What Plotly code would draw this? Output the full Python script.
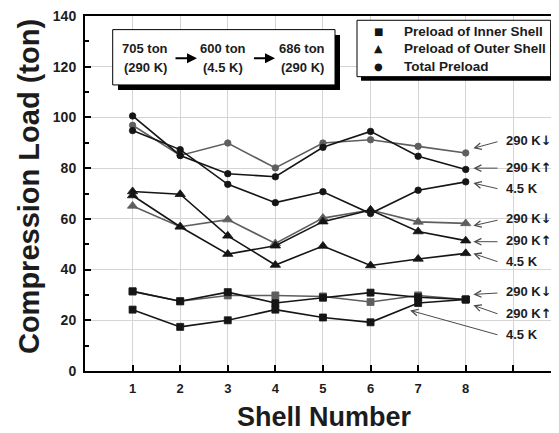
import plotly.graph_objects as go

# ---------------- data ----------------
shells = [1, 2, 3, 4, 5, 6, 7, 8]
x_ticks = [1, 2, 3, 4, 5, 6, 7, 8, 9]
x_tick_labels = ["1", "2", "3", "4", "5", "6", "7", "8", ""]

inner_290_down = [31.4, 27.5, 29.8, 29.8, 29.4, 27.2, 29.8, 28.2]
inner_290_up = [31.4, 27.5, 31.1, 26.8, 28.9, 30.9, 29.1, 28.2]
inner_4k5 = [24.2, 17.4, 20.0, 24.2, 21.1, 19.2, 26.8, 28.2]

outer_290_down = [65.1, 56.9, 59.7, 50.3, 60.3, 63.5, 58.8, 58.2]
outer_290_up = [69.2, 56.9, 46.1, 49.4, 58.9, 63.5, 55.0, 51.4]
outer_4k5 = [70.8, 69.7, 53.3, 41.8, 49.3, 41.6, 44.2, 46.4]

total_290_down = [96.9, 85.0, 89.9, 80.1, 89.9, 91.2, 88.6, 86.0]
total_290_up = [100.6, 85.0, 77.8, 76.6, 88.2, 94.5, 84.7, 79.5]
total_4k5 = [94.8, 87.3, 73.6, 66.4, 70.7, 62.1, 71.3, 74.6]

legend_names = ["Preload of Inner Shell", "Preload of Outer Shell", "Total Preload"]
legend_glyphs = ["\u25A0", "\u25B2", "\u25CF"]
ARW = "<span style='font-family:DejaVu Sans;font-weight:bold'>%s</span>"
state_labels = ["290 K" + ARW % "\u2193", "290 K" + ARW % "\u2191", "4.5 K"]

# ---------------- styling ----------------
OFF = 8                       # page body margin of the browser
W, H = 559 - OFF, 433 - OFF
ML, MR, MT, MB = 85 - OFF, 0, 14 - OFF, 433 - 371
PW, PH = W - ML - MR, H - MT - MB
XMAX, YMAX = 9.96, 140

FONT = "Arial, Liberation Sans, Helvetica, sans-serif"
TXT = "#1c1c1c"
BLACK = "#151515"
GRAY = "#5e5e5e"


def xp(px):
    return (px - OFF - ML) / PW


def yp(py):
    return (H - MB - (py - OFF)) / PH


def xd(px):
    return xp(px) * XMAX


def yd(py):
    return yp(py) * YMAX


fig = go.Figure()

series = [
    (inner_290_down, "square", 7, GRAY),
    (inner_290_up, "square", 7, BLACK),
    (inner_4k5, "square", 7, BLACK),
    (outer_290_down, "triangle-up", 9, GRAY),
    (outer_290_up, "triangle-up", 9, BLACK),
    (outer_4k5, "triangle-up", 9, BLACK),
    (total_290_down, "circle", 6.5, GRAY),
    (total_290_up, "circle", 6.5, BLACK),
    (total_4k5, "circle", 6.5, BLACK),
]
for vals, sym, size, col in series:
    fig.add_trace(go.Scatter(
        x=shells, y=vals, mode="lines+markers",
        line=dict(color=col, width=1.6),
        marker=dict(symbol=sym, size=size, color=col, line=dict(width=0.8, color=col)),
        showlegend=False, hoverinfo="skip"))


def rect(x0, y0, x1, y1, fill, lw):
    return dict(type="rect", xref="paper", yref="paper",
                x0=xp(x0), x1=xp(x1), y0=yp(y1), y1=yp(y0),
                fillcolor=fill, line=dict(width=lw, color="black"))


shapes = [
    rect(118, 33, 340, 88.5, "black", 0),       # shadow of process box
    rect(112.7, 27.7, 335, 83.3, "white", 1),   # process box
    rect(361, 22, 554.5, 79, "black", 0),       # shadow of legend
    rect(357, 18.3, 550.7, 75, "white", 1),     # legend box
]

ann = []
bf = dict(family=FONT, size=13, color=TXT, weight="bold")
for cx, top, bot in [(145, "705 ton", "(290 K)"), (223, "600 ton", "(4.5 K)"), (302, "686 ton", "(290 K)")]:
    ann.append(dict(xref="paper", yref="paper", x=xp(cx), y=yp(46.5), text=top,
                    showarrow=False, font=bf, xanchor="center", yanchor="middle"))
    ann.append(dict(xref="paper", yref="paper", x=xp(cx), y=yp(65.5), text=bot,
                    showarrow=False, font=bf, xanchor="center", yanchor="middle"))
for x0, x1 in [(174, 197), (252.5, 275)]:
    ann.append(dict(xref="paper", yref="paper", axref="pixel", ayref="pixel",
                    x=xp(x1), y=yp(56.5), ax=-(x1 - x0), ay=0, text="",
                    showarrow=True, arrowhead=2, arrowsize=1, arrowwidth=2,
                    arrowcolor="black"))

# legend (drawn as text inside the box)
leg_font = dict(family=FONT, size=13.5, color=TXT, weight="bold")
for ly, name, glyph, gsize in zip([29.5, 47, 65], legend_names, legend_glyphs, [10, 11, 10]):
    ann.append(dict(xref="paper", yref="paper", x=xp(401.5), y=yp(ly), text=name,
                    showarrow=False, font=leg_font, xanchor="left", yanchor="middle"))
    ann.append(dict(xref="paper", yref="paper", x=xp(378.5), y=yp(ly), text=glyph,
                    showarrow=False, xanchor="center", yanchor="middle",
                    font=dict(family="DejaVu Sans", size=gsize, color=BLACK)))

# right-hand state labels with pointer arrows
groups = [
    ([total_290_down, total_290_up, total_4k5], [139, 166, 187], [1.8, 0.5, -0.5]),
    ([outer_290_down, outer_290_up, outer_4k5], [218, 240, 260.5], [-0.9, -0.4, -0.1]),
    ([inner_290_down, inner_290_up, inner_4k5], [291.5, 313, 334], [2.0, -2.3, None]),
]
lf = dict(family=FONT, size=13, color=TXT, weight="bold")
for vals_list, label_ys, offs in groups:
    for vals, ly, off, lab in zip(vals_list, label_ys, offs, state_labels):
        ann.append(dict(x=xd(504), y=yd(ly), text=lab, showarrow=False, font=lf,
                        xanchor="left", yanchor="middle"))
        if off is None:
            hx, hy = shells[-2] - 0.17, vals[-2] - 2.9
        else:
            hx, hy = shells[-1] + 0.16, vals[-1] + off
        ann.append(dict(x=hx, y=hy, ax=xd(499), ay=yd(ly + 1), axref="x", ayref="y",
                        text="", showarrow=True, arrowhead=5, arrowsize=1.3,
                        arrowwidth=1, arrowcolor="#4a4a4a", standoff=0))

# axis titles
ann.append(dict(xref="paper", yref="paper", x=xp(324), y=yp(417.5), text="Shell Number",
                showarrow=False, font=dict(family=FONT, size=27, color=TXT, weight="bold"),
                xanchor="center", yanchor="middle"))
ann.append(dict(xref="paper", yref="paper", x=xp(29), y=yp(186), text="Compression Load (ton)",
                showarrow=False, textangle=-90,
                font=dict(family=FONT, size=29, color=TXT, weight="bold"),
                xanchor="center", yanchor="middle"))

fig.update_layout(
    width=W, height=H, autosize=False, showlegend=False,
    margin=dict(l=ML, r=MR, t=MT, b=MB, pad=0),
    paper_bgcolor="white", plot_bgcolor="white",
    font=dict(family=FONT, color=TXT),
    shapes=shapes, annotations=ann,
    xaxis=dict(range=[0, XMAX], tickmode="array", tickvals=x_ticks, ticktext=x_tick_labels,
               ticks="inside", ticklen=6, tickwidth=1.5, tickcolor="black",
               showline=True, linewidth=2, linecolor="black", mirror=True,
               showgrid=True, gridcolor="#d4d4d4", gridwidth=1, zeroline=False,
               ticklabelstandoff=4,
               tickfont=dict(family=FONT, size=13, color=TXT, weight="bold")),
    yaxis=dict(range=[0, YMAX], tick0=0, dtick=20,
               ticks="inside", ticklen=6, tickwidth=1.5, tickcolor="black",
               minor=dict(dtick=10, ticks="inside", ticklen=4, tickcolor="black", showgrid=False),
               showline=True, linewidth=2, linecolor="black",
               showgrid=True, gridcolor="#d4d4d4", gridwidth=1, zeroline=False,
               ticklabelstandoff=4, ticklabeloverflow="allow",
               tickfont=dict(family=FONT, size=14, color=TXT, weight="bold")),
)

fig.write_html("out.html")
